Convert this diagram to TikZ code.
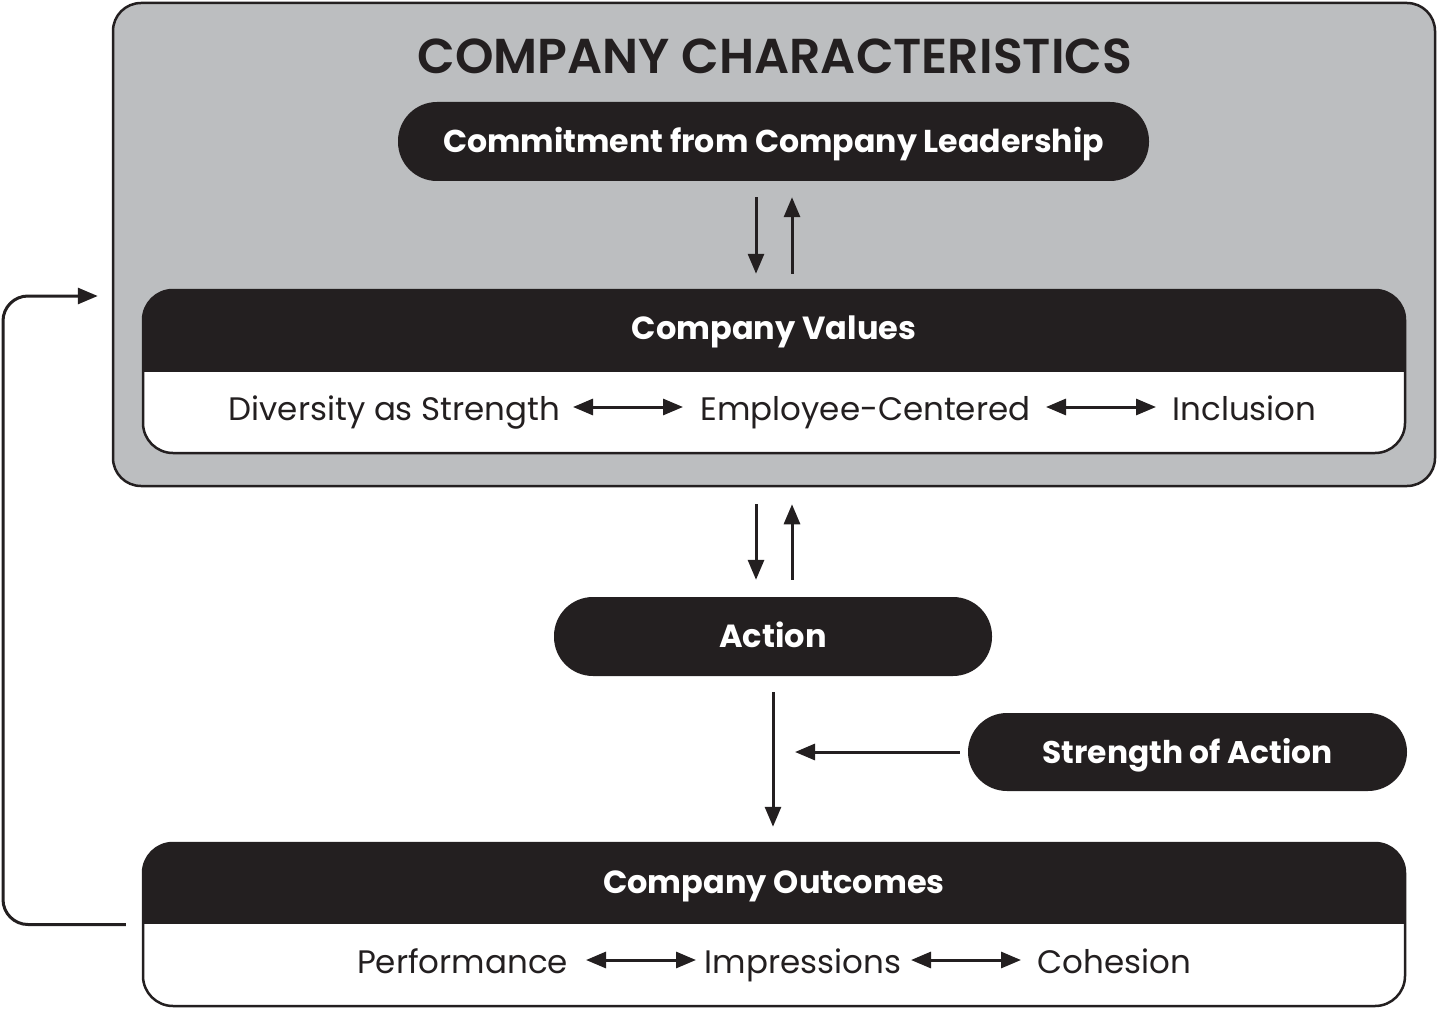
\documentclass[tikz,border=0pt]{standalone}
\usepackage{fontspec}
\setmainfont{Poppins}
\newfontfamily\titlefont{Poppins SemiBold}
\usetikzlibrary{arrows.meta,calc}
\definecolor{dk}{HTML}{231F20}
\definecolor{gr}{HTML}{BCBEC0}
\begin{document}
\begin{tikzpicture}[x=1pt,y=-1pt,
  tip/.tip={Triangle[length=20pt,width=16pt]},
  arr/.style={line width=3pt, draw=dk, -tip},
  darr/.style={line width=3pt, draw=dk, tip-tip},
  pill/.style={fill=dk, rounded corners=39pt, text=white, font=\fontsize{32}{38}\selectfont\bfseries, inner sep=0pt, text height=22.5pt, text depth=0pt},
  head/.style={text=white, font=\fontsize{32}{38}\selectfont\bfseries, inner sep=0pt, text height=22.5pt, text depth=0pt},
  rowtxt/.style={text=dk, font=\fontsize{32.5}{38}\selectfont, inner sep=0pt, anchor=base},
  frame/.style={draw=dk, line width=2.5pt},
]
\useasboundingbox (0,0) rectangle (1437,1027);
% outer box
\node[frame, fill=gr, rounded corners=28pt, minimum width=1322pt, minimum height=483pt] (outer) at (774,244.5) {};
\node[text=dk, font=\fontsize{49}{58}\selectfont\titlefont, inner sep=0pt] (title) at (775,56) {COMPANY CHARACTERISTICS};
% commitment
\node[pill, font=\fontsize{31.6}{38}\selectfont\bfseries, minimum width=751pt, minimum height=79pt] (commit) at (773.5,141.5) {Commitment from Company Leadership};
% values box
\begin{scope}
\clip[rounded corners=30pt] (143,290) rectangle (1405,453);
\fill[white] (143,290) rectangle (1405,453);
\fill[dk] (143,290) rectangle (1405,372);
\end{scope}
\node[frame, rounded corners=30pt, minimum width=1262pt, minimum height=163pt] (values) at (774,371.5) {};
\node[head] (valuesT) at (774,328.5) {Company Values};
\node[rowtxt] (div) at (394.5,420) {Diversity as Strength};
\node[rowtxt] (emp) at (865.5,420) {Employee-Centered};
\node[rowtxt] (inc) at (1244.5,420) {Inclusion};
\draw[darr] (573,407) -- (683,407);
\draw[darr] (1046,407) -- (1156,407);
% arrows commit <-> values
\draw[arr, shorten <=16pt, shorten >=15pt] ([xshift=-17.5pt]commit.south) -- ([xshift=-17.5pt]commit.south |- values.north);
\draw[arr, shorten <=15pt, shorten >=16pt] ([xshift=18.5pt]commit.south |- values.north) -- ([xshift=18.5pt]commit.south);
% action
\node[pill, minimum width=438pt, minimum height=79pt] (action) at (773,636.5) {Action};
\draw[arr, shorten <=17pt, shorten >=17pt] ([xshift=-17pt]action.north |- outer.south) -- ([xshift=-17pt]action.north);
\draw[arr, shorten <=17pt, shorten >=17pt] ([xshift=19pt]action.north) -- ([xshift=19pt]action.north |- outer.south);
% strength
\node[pill, font=\fontsize{31.3}{38}\selectfont\bfseries, minimum width=439pt, minimum height=78pt] (strength) at (1187.5,752) {Strength of Action};
% outcomes box
\begin{scope}
\clip[rounded corners=30pt] (143,843) rectangle (1405,1006);
\fill[white] (143,843) rectangle (1405,1006);
\fill[dk] (143,843) rectangle (1405,924);
\end{scope}
\node[frame, rounded corners=30pt, minimum width=1262pt, minimum height=163pt] (outcomes) at (774,924.5) {};
\node[head] (outcomesT) at (774,882) {Company Outcomes};
\node[rowtxt] (perf) at (462.5,973) {Performance};
\node[rowtxt] (impr) at (803,973) {Impressions};
\node[rowtxt] (cohe) at (1114.5,973) {Cohesion};
\draw[darr] (586,960) -- (696,960);
\draw[darr] (911,960) -- (1021,960);
% action -> outcomes
\draw[arr, shorten <=16pt, shorten >=15pt] (action.south) -- (action.south |- outcomes.north);
% strength -> arrow
\draw[arr, shorten <=8pt, shorten >=22pt] (strength.west) -- (strength.west -| action.south);
% feedback
\coordinate (fb) at (0,296);
\draw[arr, rounded corners=25pt, shorten <=16pt, shorten >=14pt] (outcomes.west) -- (3,924.5) -- (3,296) -- (outer.west |- fb);
\end{tikzpicture}
\end{document}
